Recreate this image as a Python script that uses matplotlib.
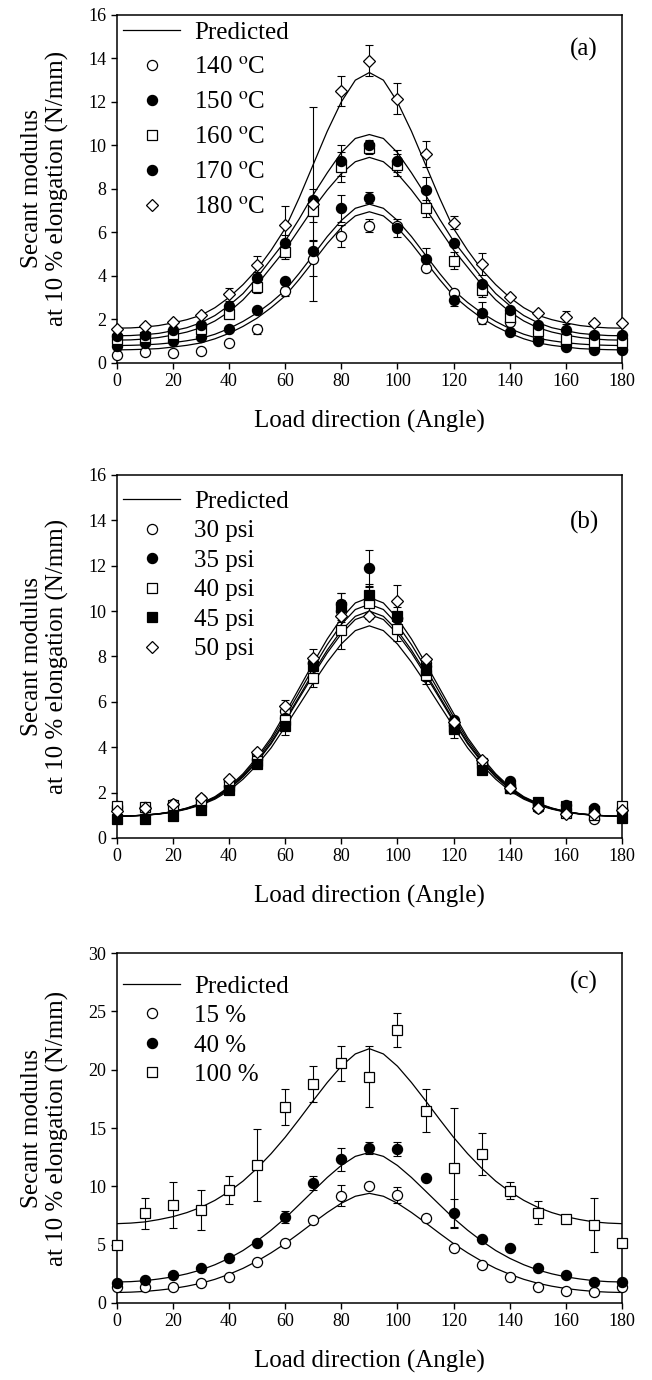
"""Secant modulus at 10 % elongation vs load direction: three stacked panels,
measured points with error bars and the predicted curves."""
import numpy as np
import matplotlib
matplotlib.use("Agg")
import matplotlib.pyplot as plt
from matplotlib.lines import Line2D

plt.rcParams["font.family"] = ["Liberation Serif", "DejaVu Serif"]
plt.rcParams["mathtext.fontset"] = "stix"

# measured angles and angles of the predicted curves
angles = np.arange(0, 181, 10)
curve_angles = np.arange(0, 181, 5)

# ---- panel (a): temperature ----
a_labels = ["140 $^{\\mathrm{o}}$C", "150 $^{\\mathrm{o}}$C", "160 $^{\\mathrm{o}}$C",
            "170 $^{\\mathrm{o}}$C", "180 $^{\\mathrm{o}}$C"]
a_140 = [0.35, 0.5, 0.45, 0.55, 0.9, 1.55, 3.3, 4.8, 5.85, 6.3, 6.3, 4.35, 3.2, 2.0, 1.9, 1.1, 0.85, 0.7, 0.65]
a_150 = [0.8, 0.9, 1.0, 1.2, 1.55, 2.45, 3.75, 5.15, 7.1, 7.6, 6.2, 4.8, 2.9, 2.3, 1.4, 1.0, 0.75, 0.6, 0.6]
a_160 = [1.1, 1.2, 1.35, 1.55, 2.25, 3.5, 5.1, 7.0, 9.0, 9.9, 9.1, 7.1, 4.7, 3.35, 2.1, 1.45, 1.1, 0.95, 0.95]
a_170 = [1.25, 1.3, 1.5, 1.75, 2.6, 3.9, 5.5, 7.5, 9.3, 10.0, 9.3, 7.95, 5.5, 3.65, 2.45, 1.75, 1.5, 1.3, 1.3]
a_180 = [1.55, 1.7, 1.9, 2.2, 3.15, 4.5, 6.35, 7.3, 12.5, 13.9, 12.15, 9.6, 6.45, 4.55, 3.05, 2.3, 2.1, 1.85, 1.85]
a_err_140 = [0, 0, 0, 0, 0, 0.2, 0.2, 0.8, 0.5, 0.3, 0, 0, 0, 0, 0, 0, 0, 0, 0]
a_err_150 = [0, 0, 0, 0, 0, 0, 0, 0.5, 0.6, 0.25, 0.4, 0.5, 0.3, 0.5, 0, 0, 0, 0, 0]
a_err_160 = [0, 0, 0, 0, 0.2, 0.3, 0.3, 0.5, 0.7, 0.3, 0.5, 0.4, 0.4, 0.3, 0.2, 0.2, 0.2, 0, 0]
a_err_170 = [0, 0, 0, 0, 0, 0.3, 0.4, 0.5, 0.7, 0.25, 0.5, 0.6, 0, 0, 0, 0, 0, 0, 0]
a_err_180 = [0, 0, 0, 0, 0.3, 0.4, 0.85, 4.45, 0.7, 0.7, 0.7, 0.6, 0.3, 0.5, 0, 0, 0.3, 0, 0]
a_pred_140 = [0.60, 0.61, 0.63, 0.66, 0.73, 0.81, 0.92, 1.11, 1.36, 1.68, 2.06, 2.54, 3.08, 3.84, 4.66, 5.49, 6.22, 6.76, 6.95,
              6.76, 6.22, 5.49, 4.66, 3.84, 3.08, 2.54, 2.06, 1.68, 1.36, 1.11, 0.92, 0.81, 0.73, 0.66, 0.63, 0.61, 0.60]
a_pred_150 = [0.80, 0.81, 0.83, 0.87, 0.93, 1.02, 1.13, 1.32, 1.58, 1.91, 2.30, 2.78, 3.34, 4.12, 4.96, 5.81, 6.55, 7.11, 7.30,
              7.11, 6.55, 5.81, 4.96, 4.12, 3.34, 2.78, 2.30, 1.91, 1.58, 1.32, 1.13, 1.02, 0.93, 0.87, 0.83, 0.81, 0.80]
a_pred_160 = [1.05, 1.06, 1.10, 1.17, 1.28, 1.42, 1.62, 1.93, 2.35, 2.90, 3.60, 4.40, 5.20, 6.15, 7.10, 7.95, 8.70, 9.25, 9.45,
              9.25, 8.70, 7.95, 7.10, 6.15, 5.20, 4.40, 3.60, 2.90, 2.35, 1.93, 1.62, 1.42, 1.28, 1.17, 1.10, 1.06, 1.05]
a_pred_170 = [1.25, 1.26, 1.30, 1.36, 1.48, 1.62, 1.85, 2.18, 2.64, 3.19, 3.93, 4.77, 5.60, 6.62, 7.73, 8.74, 9.67, 10.32, 10.50,
              10.32, 9.67, 8.74, 7.73, 6.62, 5.60, 4.77, 3.93, 3.19, 2.64, 2.18, 1.85, 1.62, 1.48, 1.36, 1.30, 1.26, 1.25]
a_pred_180 = [1.60, 1.61, 1.65, 1.72, 1.84, 1.99, 2.19, 2.54, 3.01, 3.60, 4.30, 5.18, 6.18, 7.59, 9.12, 10.65, 12.00, 13.00, 13.35,
              13.00, 12.00, 10.65, 9.12, 7.59, 6.18, 5.18, 4.30, 3.60, 3.01, 2.54, 2.19, 1.99, 1.84, 1.72, 1.65, 1.61, 1.60]

# ---- panel (b): pressure ----
b_labels = ["30 psi", "35 psi", "40 psi", "45 psi", "50 psi"]
b_30 = [1.4, 1.3, 1.5, 1.7, 2.5, 3.7, 5.6, 7.7, 10.0, 10.4, 9.7, 7.7, 5.0, 3.3, 2.3, 1.3, 1.1, 0.85, 1.3]
b_35 = [1.3, 1.35, 1.45, 1.6, 2.3, 3.5, 5.3, 7.7, 10.3, 11.9, 9.7, 7.6, 5.2, 3.3, 2.5, 1.5, 1.45, 1.3, 1.2]
b_40 = [1.4, 1.35, 1.45, 1.6, 2.3, 3.4, 5.2, 7.05, 9.15, 10.35, 9.2, 7.2, 4.9, 3.3, 2.2, 1.4, 1.1, 1.0, 1.4]
b_45 = [0.85, 0.85, 0.95, 1.25, 2.1, 3.25, 4.95, 7.6, 10.2, 10.7, 9.8, 7.4, 4.8, 3.0, 2.2, 1.6, 1.4, 1.2, 0.9]
b_50 = [1.2, 1.3, 1.5, 1.75, 2.6, 3.8, 5.8, 7.95, 9.8, 9.8, 10.45, 7.9, 5.1, 3.45, 2.2, 1.3, 1.05, 1.05, 1.25]
b_err_30 = [0, 0, 0, 0, 0, 0, 0, 0, 0.5, 0.5, 0, 0, 0, 0, 0, 0, 0, 0, 0]
b_err_35 = [0, 0, 0, 0, 0, 0, 0, 0, 0.5, 0.8, 0.5, 0, 0, 0, 0, 0, 0, 0, 0]
b_err_40 = [0, 0, 0, 0, 0, 0, 0, 0.4, 0.8, 0.7, 0.5, 0.4, 0, 0, 0, 0, 0, 0, 0]
b_err_45 = [0, 0, 0, 0, 0, 0, 0.4, 0, 0.6, 0.5, 0, 0.5, 0.4, 0, 0, 0, 0, 0, 0]
b_err_50 = [0, 0, 0, 0, 0, 0, 0.3, 0.4, 0, 0, 0.7, 0, 0, 0, 0, 0, 0, 0, 0]
b_pred_1 = [0.95, 0.97, 1.01, 1.07, 1.16, 1.32, 1.53, 1.82, 2.25, 2.83, 3.56, 4.42, 5.49, 6.60, 7.71, 8.77, 9.68, 10.36, 10.60,
            10.36, 9.68, 8.77, 7.71, 6.60, 5.49, 4.42, 3.56, 2.83, 2.25, 1.82, 1.53, 1.32, 1.16, 1.07, 1.01, 0.97, 0.95]
b_pred_2 = [0.95, 0.97, 1.01, 1.06, 1.16, 1.31, 1.51, 1.79, 2.21, 2.77, 3.47, 4.32, 5.34, 6.42, 7.50, 8.52, 9.41, 10.07, 10.30,
            10.07, 9.41, 8.52, 7.50, 6.42, 5.34, 4.32, 3.47, 2.77, 2.21, 1.79, 1.51, 1.31, 1.16, 1.06, 1.01, 0.97, 0.95]
b_pred_3 = [0.95, 0.97, 1.00, 1.06, 1.15, 1.29, 1.49, 1.76, 2.17, 2.71, 3.39, 4.21, 5.20, 6.24, 7.29, 8.28, 9.14, 9.77, 10.00,
            9.77, 9.14, 8.28, 7.29, 6.24, 5.20, 4.21, 3.39, 2.71, 2.17, 1.76, 1.49, 1.29, 1.15, 1.06, 1.00, 0.97, 0.95]
b_pred_4 = [0.95, 0.97, 1.00, 1.06, 1.15, 1.29, 1.48, 1.75, 2.15, 2.69, 3.35, 4.15, 5.13, 6.16, 7.18, 8.16, 9.00, 9.63, 9.85,
            9.63, 9.00, 8.16, 7.18, 6.16, 5.13, 4.15, 3.35, 2.69, 2.15, 1.75, 1.48, 1.29, 1.15, 1.06, 1.00, 0.97, 0.95]
b_pred_5 = [0.95, 0.97, 1.00, 1.05, 1.13, 1.27, 1.45, 1.71, 2.08, 2.59, 3.22, 3.97, 4.90, 5.86, 6.83, 7.75, 8.55, 9.14, 9.35,
            9.14, 8.55, 7.75, 6.83, 5.86, 4.90, 3.97, 3.22, 2.59, 2.08, 1.71, 1.45, 1.27, 1.13, 1.05, 1.00, 0.97, 0.95]

# ---- panel (c): strain level ----
c_labels = ["15 %", "40 %", "100 %"]
c_15 = [1.34, 1.34, 1.4, 1.69, 2.26, 3.54, 5.11, 7.11, 9.2, 10.03, 9.26, 7.26, 4.69, 3.26, 2.2, 1.34, 1.05, 0.95, 1.4]
c_40 = [1.69, 1.97, 2.4, 2.97, 3.89, 5.17, 7.4, 10.26, 12.31, 13.26, 13.17, 10.69, 7.69, 5.46, 4.69, 2.97, 2.4, 1.83, 1.83]
c_100 = [4.97, 7.69, 8.4, 7.97, 9.69, 11.83, 16.83, 18.74, 20.54, 19.4, 23.4, 16.49, 11.6, 12.77, 9.63, 7.74, 7.17, 6.69, 5.11]
c_err_15 = [0, 0, 0, 0, 0, 0, 0, 0, 0.9, 0, 0.7, 0, 0, 0, 0, 0, 0, 0, 0]
c_err_40 = [0, 0, 0, 0, 0, 0, 0.5, 0.6, 1.0, 0.5, 0.6, 0, 1.2, 0, 0, 0, 0, 0, 0]
c_err_100 = [0, 1.35, 2.0, 1.7, 1.2, 3.1, 1.55, 1.55, 1.5, 2.6, 1.45, 1.85, 5.15, 1.8, 0.7, 1.0, 0, 2.3, 0]
c_pred_15 = [0.90, 0.93, 0.99, 1.10, 1.24, 1.44, 1.69, 2.03, 2.46, 2.97, 3.59, 4.30, 5.09, 5.97, 6.88, 7.76, 8.55, 9.15, 9.40,
             9.15, 8.55, 7.76, 6.88, 5.97, 5.09, 4.30, 3.59, 2.97, 2.46, 2.03, 1.69, 1.44, 1.24, 1.10, 0.99, 0.93, 0.90]
c_pred_40 = [1.80, 1.83, 1.91, 2.06, 2.24, 2.50, 2.83, 3.28, 3.83, 4.50, 5.32, 6.24, 7.27, 8.43, 9.60, 10.76, 11.79, 12.57, 12.90,
             12.57, 11.79, 10.76, 9.60, 8.43, 7.27, 6.24, 5.32, 4.50, 3.83, 3.28, 2.83, 2.50, 2.24, 2.06, 1.91, 1.83, 1.80]
c_pred_100 = [6.80, 6.85, 6.95, 7.15, 7.40, 7.75, 8.20, 8.80, 9.55, 10.45, 11.55, 12.80, 14.20, 15.75, 17.35, 18.90, 20.30, 21.35, 21.80,
              21.35, 20.30, 18.90, 17.35, 15.75, 14.20, 12.80, 11.55, 10.45, 9.55, 8.80, 8.20, 7.75, 7.40, 7.15, 6.95, 6.85, 6.80]

# marker styles: (marker, facecolor)
OPEN_CIRCLE = ("o", "white")
FULL_CIRCLE = ("o", "black")
OPEN_SQUARE = ("s", "white")
FULL_SQUARE = ("s", "black")
OPEN_DIAMOND = ("D", "white")

YLABEL = "Secant modulus\nat 10 % elongation (N/mm)"
XLABEL = "Load direction (Angle)"
BIG = 18


def marker_size(m):
    return 6.3 if m == "D" else 7.3 if m == "o" else 6.6


def panel(ax, tag, tag_y, series, errs, styles, labels, preds, ymax, ystep,
          legend_y, legend_gap):
    for p in preds:
        ax.plot(curve_angles, p, color="black", lw=0.9, zorder=2)
    for y, e, (m, fc) in zip(series, errs, styles):
        e = np.array(e, dtype=float)
        ax.errorbar(angles, y, yerr=np.where(e > 0, e, np.nan), fmt="none", ecolor="black",
                    elinewidth=0.8, capsize=3, capthick=0.8, zorder=3)
        ax.plot(angles, y, ls="none", marker=m, ms=marker_size(m), mfc=fc, mec="black",
                mew=0.9, zorder=4, clip_on=False)
    handles = [Line2D([], [], color="black", lw=0.9)]
    for m, fc in styles:
        handles.append(Line2D([], [], ls="none", marker=m, ms=marker_size(m),
                              mfc=fc, mec="black", mew=0.9))
    ax.legend(handles, ["Predicted"] + labels, loc="upper left", frameon=False,
              fontsize=BIG, handlelength=2.3, handletextpad=0.55, labelspacing=legend_gap,
              borderpad=0.25, borderaxespad=0.0, bbox_to_anchor=(0.0, legend_y), numpoints=1)
    ax.text(0.925, tag_y, tag, transform=ax.transAxes, ha="center", va="center", fontsize=BIG)
    ax.set_xlim(0, 180)
    ax.set_ylim(0, ymax)
    ax.set_xticks(range(0, 181, 20))
    ax.set_yticks(np.arange(0, ymax + 0.1, ystep))
    ax.tick_params(direction="out", length=4, width=1, labelsize=13, top=False, right=False)
    for s in ax.spines.values():
        s.set_linewidth(1.1)
    ax.set_xlabel(XLABEL, fontsize=BIG, labelpad=14)
    ax.set_ylabel(YLABEL, fontsize=BIG, labelpad=14, linespacing=1.15)


fig = plt.figure(figsize=(6.52, 13.8), dpi=100)
ax_a = fig.add_axes([0.179, 0.7370, 0.775, 0.2522])
ax_b = fig.add_axes([0.179, 0.3928, 0.775, 0.2630])
ax_c = fig.add_axes([0.179, 0.0558, 0.775, 0.2536])

panel(ax_a, "(a)", 0.90, [a_140, a_150, a_160, a_170, a_180],
      [a_err_140, a_err_150, a_err_160, a_err_170, a_err_180],
      [OPEN_CIRCLE, FULL_CIRCLE, OPEN_SQUARE, FULL_CIRCLE, OPEN_DIAMOND], a_labels,
      [a_pred_140, a_pred_150, a_pred_160, a_pred_170, a_pred_180], 16, 2, 1.0, 0.5)
panel(ax_b, "(b)", 0.87, [b_30, b_35, b_40, b_45, b_50],
      [b_err_30, b_err_35, b_err_40, b_err_45, b_err_50],
      [OPEN_CIRCLE, FULL_CIRCLE, OPEN_SQUARE, FULL_SQUARE, OPEN_DIAMOND], b_labels,
      [b_pred_1, b_pred_2, b_pred_3, b_pred_4, b_pred_5], 16, 2, 0.975, 0.28)
panel(ax_c, "(c)", 0.915, [c_15, c_40, c_100], [c_err_15, c_err_40, c_err_100],
      [OPEN_CIRCLE, FULL_CIRCLE, OPEN_SQUARE], c_labels,
      [c_pred_15, c_pred_40, c_pred_100], 30, 5, 0.955, 0.28)

fig.savefig("out.png", dpi=100)
